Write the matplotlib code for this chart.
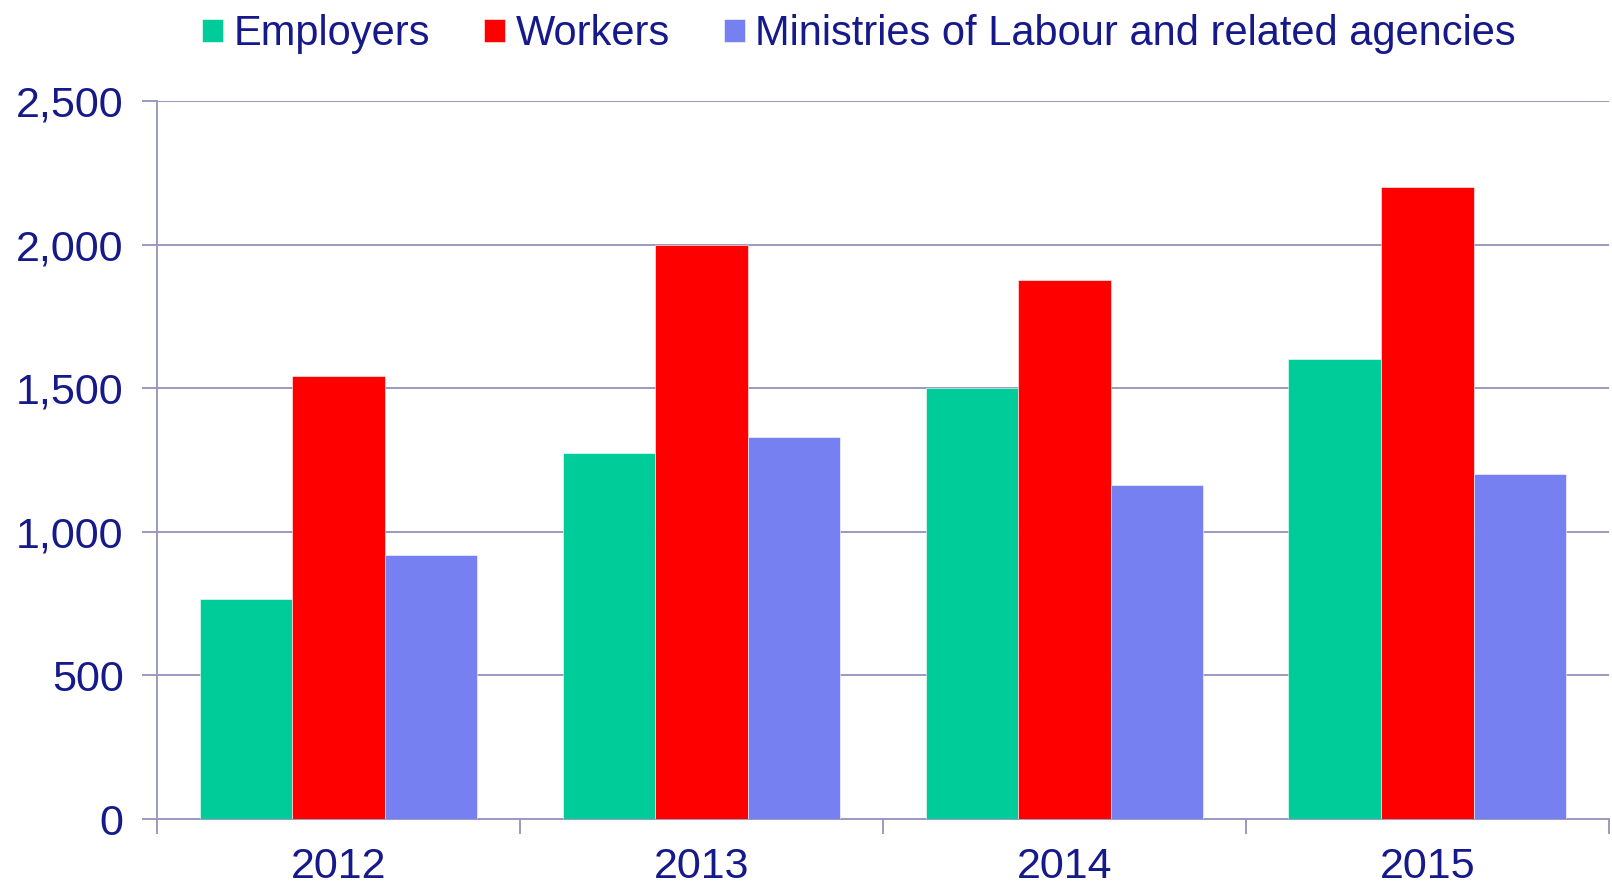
import matplotlib.pyplot as plt
import numpy as np

# dados
anos = ['2012', '2013', '2014', '2015']
employers = [765, 1273, 1500, 1600]
workers = [1541, 2000, 1878, 2200]
ministries = [919, 1330, 1162, 1202]

series_nomes = ['Employers', 'Workers', 'Ministries of Labour and related agencies']
cores = ['#00CC99', '#FF0000', '#7780F0']

texto = '#16198A'
grade = '#9A9AC0'

plt.rcParams['font.family'] = ['Liberation Sans', 'DejaVu Sans']

fig = plt.figure(figsize=(16.12, 8.88), dpi=100)
ax = fig.add_axes([0.0974, 0.0777, 0.9006, 0.8086])

x = np.arange(len(anos))
largura = 0.255
for i, (vals, nome, cor) in enumerate(zip([employers, workers, ministries], series_nomes, cores)):
    ax.bar(x + (i - 1) * largura, vals, largura, color=cor, label=nome,
           edgecolor='white', linewidth=0.4, zorder=3)

ax.set_xlim(-0.5, len(anos) - 0.5)
ax.set_ylim(0, 2500)
ax.set_yticks(np.arange(0, 2501, 500))
ax.set_yticklabels([f'{v:,}' for v in range(0, 2501, 500)])
ax.yaxis.grid(True, color=grade, linewidth=1.4, zorder=0)

# ticks principais nas divisas, rotulos no centro
ax.set_xticks(np.arange(-0.5, len(anos), 1.0))
ax.set_xticklabels([])
ax.set_xticks(x, minor=True)
ax.set_xticklabels(anos, minor=True)
ax.tick_params(axis='x', which='major', length=11, width=1.4, color=grade, direction='out')
ax.tick_params(axis='x', which='minor', length=0, pad=20, labelsize=31, labelcolor=texto)
ax.tick_params(axis='y', length=11, width=1.4, color=grade, pad=13, labelsize=31, labelcolor=texto)

for lado in ['top', 'right']:
    ax.spines[lado].set_visible(False)
for lado in ['left', 'bottom']:
    ax.spines[lado].set_color(grade)
    ax.spines[lado].set_linewidth(1.4)

fig.legend(loc='upper center', bbox_to_anchor=(0.533, 1.012), ncol=3, frameon=False,
           fontsize=30, labelcolor=texto, handlelength=0.5, handleheight=0.5,
           handletextpad=0.25, columnspacing=1.3, borderaxespad=0.2)

fig.savefig('out.png', dpi=100)
plt.close()
